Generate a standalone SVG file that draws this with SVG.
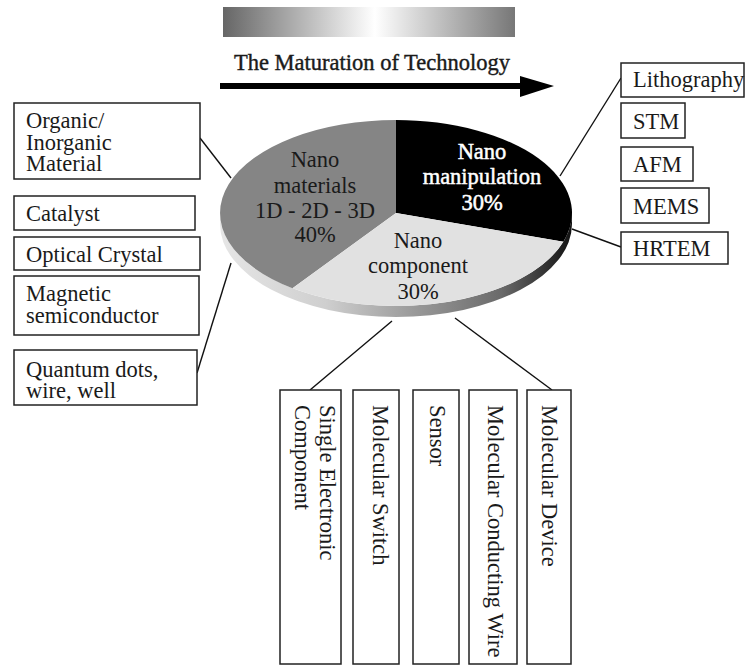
<svg xmlns="http://www.w3.org/2000/svg" width="745" height="666" viewBox="0 0 745 666">
<defs>
<linearGradient id="barGrad" x1="0" y1="0" x2="1" y2="0">
<stop offset="0" stop-color="#666"/>
<stop offset="0.52" stop-color="#fff"/>
<stop offset="1" stop-color="#777"/>
</linearGradient>
<linearGradient id="rimGrad" gradientUnits="userSpaceOnUse" x1="220" y1="0" x2="572" y2="0">
<stop offset="0" stop-color="#e6e6e6"/>
<stop offset="0.3" stop-color="#cfcfcf"/>
<stop offset="0.55" stop-color="#9a9a9a"/>
<stop offset="0.8" stop-color="#6a6a6a"/>
<stop offset="1" stop-color="#111"/>
</linearGradient>
<style>
.t{font-family:"Liberation Serif","Times New Roman",serif;font-size:22.5px;fill:#1a1a1a}
.c{text-anchor:middle}
.w{fill:#fff;stroke:#fff;stroke-width:0.5}
.box{fill:#fff;stroke:#222;stroke-width:1.5}
.ln{stroke:#111;stroke-width:1.4;fill:none}
</style>
</defs>
<rect width="745" height="666" fill="#fff"/>

<g id="header">
<rect x="223" y="7" width="292" height="30" fill="url(#barGrad)"/>
<text class="t c" x="372" y="70" style="stroke:#1a1a1a;stroke-width:0.4">The Maturation of Technology</text>
<rect x="220" y="83" width="304" height="6" fill="#000"/>
<polygon points="520,76 554,86 520,97" fill="#000"/>
</g>

<g id="pie">
<path d="M220 213 A176 93 0 0 0 572 213 L572 224 A176 93 0 0 1 220 224 Z" fill="url(#rimGrad)"/>
<path d="M396 213 L396 120 A176 93 0 0 0 292.5 288.2 Z" fill="#858585"/>
<path d="M396 213 L396 120 A176 93 0 0 1 563.4 241.7 Z" fill="#000"/>
<path d="M396 213 L563.4 241.7 A176 93 0 0 1 292.5 288.2 Z" fill="#e1e1e1"/>
<text class="t c" x="315" y="167">Nano</text>
<text class="t c" x="315" y="193">materials</text>
<text class="t c" x="315" y="218">1D - 2D - 3D</text>
<text class="t c" x="315" y="242">40%</text>
<text class="t c w" x="482" y="159">Nano</text>
<text class="t c w" x="482" y="184">manipulation</text>
<text class="t c w" x="482" y="210">30%</text>
<text class="t c" x="418" y="248">Nano</text>
<text class="t c" x="418" y="273">component</text>
<text class="t c" x="418" y="299">30%</text>
</g>

<g id="connectors">
<line class="ln" x1="200" y1="138" x2="231" y2="178"/>
<line class="ln" x1="197" y1="373" x2="231" y2="263"/>
<line class="ln" x1="560" y1="176" x2="621" y2="78"/>
<line class="ln" x1="572" y1="229" x2="621" y2="247"/>
<line class="ln" x1="392" y1="321" x2="310" y2="390"/>
<line class="ln" x1="455" y1="318" x2="552" y2="390"/>
</g>

<g id="organic">
<rect class="box" x="14" y="103" width="186" height="76"/>
<text class="t" x="26" y="128">Organic/</text>
<text class="t" x="26" y="150">Inorganic</text>
<text class="t" x="26" y="171">Material</text>
</g>
<g id="catalyst">
<rect class="box" x="14" y="196" width="181" height="34"/>
<text class="t" x="26" y="221">Catalyst</text>
</g>
<g id="optical">
<rect class="box" x="14" y="237" width="186" height="33"/>
<text class="t" x="26" y="262">Optical Crystal</text>
</g>
<g id="magnetic">
<rect class="box" x="14" y="276" width="185" height="59"/>
<text class="t" x="26" y="301">Magnetic</text>
<text class="t" x="26" y="323">semiconductor</text>
</g>
<g id="quantum">
<rect class="box" x="14" y="350" width="183" height="55"/>
<text class="t" x="26" y="377">Quantum dots,</text>
<text class="t" x="26" y="398">wire, well</text>
</g>

<g id="lithography">
<rect class="box" x="621" y="63" width="123" height="34"/>
<text class="t" x="633" y="87">Lithography</text>
</g>
<g id="stm">
<rect class="box" x="621" y="103" width="64" height="35"/>
<text class="t" x="633" y="129">STM</text>
</g>
<g id="afm">
<rect class="box" x="621" y="147" width="72" height="34"/>
<text class="t" x="633" y="172">AFM</text>
</g>
<g id="mems">
<rect class="box" x="621" y="188" width="88" height="35"/>
<text class="t" x="633" y="214">MEMS</text>
</g>
<g id="hrtem">
<rect class="box" x="621" y="232" width="107" height="32"/>
<text class="t" x="633" y="256">HRTEM</text>
</g>

<g id="single-electronic">
<rect class="box" x="280" y="390" width="61" height="274"/>
<text class="t" transform="translate(320,405) rotate(90)">Single Electronic</text>
<text class="t" transform="translate(295,405) rotate(90)">Component</text>
</g>
<g id="molecular-switch">
<rect class="box" x="353" y="390" width="46" height="274"/>
<text class="t" transform="translate(373,405) rotate(90)">Molecular Switch</text>
</g>
<g id="sensor">
<rect class="box" x="413" y="390" width="46" height="274"/>
<text class="t" transform="translate(430,405) rotate(90)">Sensor</text>
</g>
<g id="molecular-wire">
<rect class="box" x="469" y="390" width="48" height="274"/>
<text class="t" transform="translate(488,405) rotate(90)">Molecular Conducting Wire</text>
</g>
<g id="molecular-device">
<rect class="box" x="527" y="390" width="44" height="274"/>
<text class="t" transform="translate(542,405) rotate(90)">Molecular Device</text>
</g>
</svg>
